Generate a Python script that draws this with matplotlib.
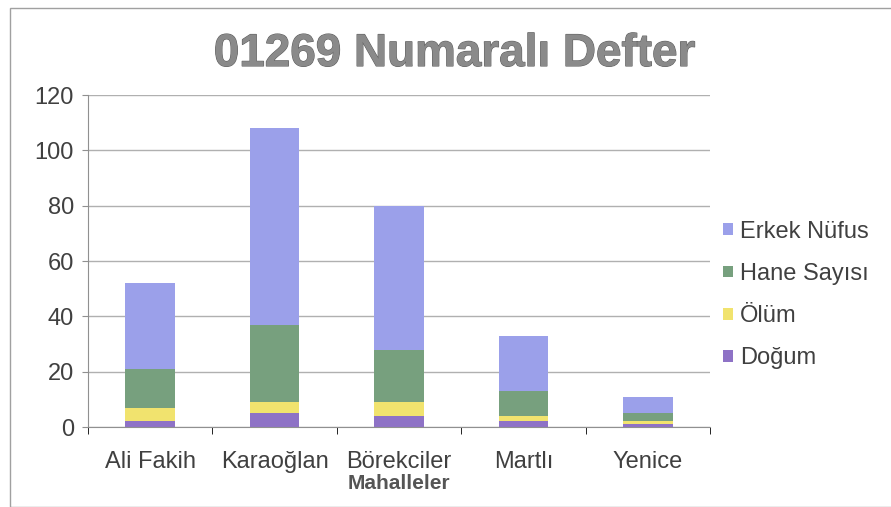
import numpy as np
import matplotlib.pyplot as plt
from matplotlib.patches import Rectangle
import matplotlib.patheffects as pe

plt.rcParams['font.family'] = ['Liberation Sans', 'DejaVu Sans']

mahalleler = ['Ali Fakih', 'Karaoğlan', 'Börekciler', 'Martlı', 'Yenice']
dogum = [2, 5, 4, 2, 1]
olum = [5, 4, 5, 2, 1]
hane = [14, 28, 19, 9, 3]
erkek = [31, 71, 52, 20, 6]

series = [('Doğum', dogum, '#8e72c6'),
          ('Ölüm', olum, '#f1e36e'),
          ('Hane Sayısı', hane, '#77a07e'),
          ('Erkek Nüfus', erkek, '#9ba0ea')]

fig = plt.figure(figsize=(8.91, 5.07), dpi=100)
ax = fig.add_axes([88 / 891, 1 - 427 / 507, (710 - 88) / 891, (427 - 95) / 507])

x = np.arange(len(mahalleler))
bottom = np.zeros(len(mahalleler))
handles = []
for name, vals, col in series:
    b = ax.bar(x, vals, 0.4, bottom=bottom, color=col, label=name)
    handles.append(b)
    bottom += np.array(vals)

ax.set_xlim(-0.5, 4.5)
ax.set_ylim(0, 120)
ax.set_yticks(range(0, 121, 20))
ax.set_xticks(x)
ax.set_xticks(np.arange(-0.5, 4.6, 1), minor=True)
ax.set_xticklabels(mahalleler)
ax.yaxis.grid(True, color='#b0b0b0', linewidth=1)
ax.set_axisbelow(True)
for s in ['top', 'right']:
    ax.spines[s].set_visible(False)
ax.spines['left'].set_color('#909090')
ax.spines['bottom'].set_color('#909090')
ax.tick_params(axis='both', labelsize=17, colors='#404040', color='#909090')
ax.tick_params(axis='x', which='major', length=0, pad=17)
ax.tick_params(axis='x', which='minor', length=5)
ax.tick_params(axis='y', length=4, pad=6)
ax.set_xlabel('Mahalleler', fontsize=15, fontweight='bold', color='#555555', labelpad=1)

leg = fig.legend(handles[::-1], [s[0] for s in series][::-1], loc='center left',
                 bbox_to_anchor=(702 / 891, 1 - 295 / 507), frameon=False,
                 fontsize=17, handlelength=0.4, handleheight=0.4,
                 handletextpad=0.3, labelspacing=0.85)
for t in leg.get_texts():
    t.set_color('#404040')

fig.text(455 / 891, 1 - 54 / 507, '01269 Numaralı Defter', ha='center', va='center',
         fontsize=33, fontweight='bold', color='#8a8a8a',
         path_effects=[pe.withStroke(linewidth=0.8, foreground='#606060')])

fig.patches.append(Rectangle((10 / 891, 0), 1, 1 - 8 / 507, transform=fig.transFigure,
                             fill=False, edgecolor='#a0a0a0', linewidth=1))

fig.savefig('out.png', dpi=100)
